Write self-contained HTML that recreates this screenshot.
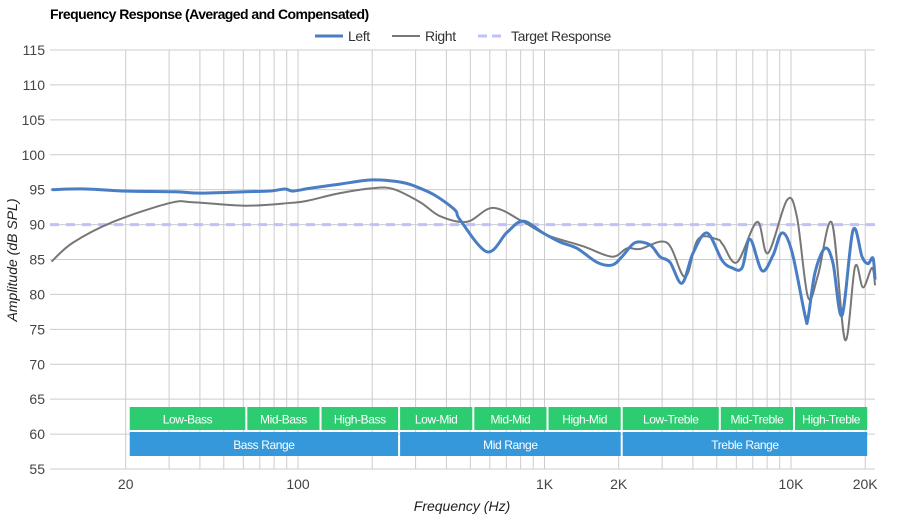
<!DOCTYPE html>
<html><head><meta charset="utf-8"><style>
body{margin:0;background:#fff;font-family:"Liberation Sans",sans-serif;}
svg text{font-family:"Liberation Sans",sans-serif;}
</style></head><body>
<svg id="chart" width="900" height="520" xmlns="http://www.w3.org/2000/svg">
<rect width="900" height="520" fill="#fff"/>
<text x="50" y="19" font-size="14" font-weight="bold" fill="#000" style="letter-spacing:-0.55px">Frequency Response (Averaged and Compensated)</text>
<g id="grid"></g><g id="bands"></g><g id="series"></g><g id="axes"></g>
<g>
<line x1="315" y1="36" x2="343" y2="36" stroke="#4a7ec4" stroke-width="3"/>
<text x="348" y="41" font-size="14" fill="#333" style="letter-spacing:-0.4px">Left</text>
<line x1="392" y1="36" x2="420" y2="36" stroke="#777" stroke-width="2"/>
<text x="425" y="41" font-size="14" fill="#333" style="letter-spacing:-0.4px">Right</text>
<line x1="478" y1="36" x2="506" y2="36" stroke="#c0c0fa" stroke-width="3" stroke-dasharray="9,5"/>
<text x="511" y="41" font-size="14" fill="#333" style="letter-spacing:-0.4px">Target Response</text>
</g>
<text x="462" y="511" font-size="14" font-style="italic" text-anchor="middle" fill="#222">Frequency (Hz)</text>
<text transform="translate(17,260) rotate(-90)" font-size="14" font-style="italic" text-anchor="middle" fill="#222">Amplitude (dB SPL)</text>
</svg>
<script>
const yTicks=[55,60,65,70,75,80,85,90,95,100,105,110,115];
const xGrid=[20,30,40,50,60,70,80,90,100,200,300,400,500,600,700,800,900,1000,2000,3000,4000,5000,6000,7000,8000,9000,10000,20000];
const xTickVals=[20,100,1000,2000,10000,20000];
const xTickLabels=["20","100","1K","2K","10K","20K"];
const target=90;
const leftFreq=[10,13.7,20,31.7,40,61,76.9,88.5,95.4,111.9,148,199.5,259,298,359,433,454,585,705,818,986,1156,1355,1633,1879,2062,2328,2679,2941,3230,3612,4003,4563,5250,5767,6329,6818,7628,8453,9190,10090,11400,11720,12510,13740,14800,16100,17850,19420,20530,21510,21930];
const leftDb=[95.0,95.1,94.8,94.7,94.5,94.7,94.8,95.1,94.8,95.2,95.8,96.4,96.1,95.5,94.2,92.1,90.7,86.1,88.9,90.5,88.8,87.5,86.6,84.6,84.2,85.4,87.4,87.1,85.4,84.6,81.6,85.9,88.8,84.9,83.8,83.8,87.9,83.4,85.6,88.8,86.1,77.0,76.6,83.1,86.6,84.5,77.0,89.2,85.4,84.4,85.2,82.1];
const rightFreq=[10,12.2,17.8,30.3,37.5,61,92.9,108.8,148,201,243,313,377,485,618,818,1023,1432,1879,2161,2440,3141,3717,4195,5011,5298,6040,7283,8064,9630,10570,11720,12880,14670,16560,18200,19600,21310,21930];
const rightDb=[84.7,87.4,90.4,93.1,93.2,92.7,93.1,93.4,94.5,95.2,95.1,93.2,91.2,90.4,92.4,90.4,88.5,86.9,85.4,86.6,86.5,87.4,82.5,87.9,87.9,87.1,84.6,90.4,85.9,93.5,91.1,79.6,82.8,90.2,73.5,84.0,81.0,83.8,81.3];
const bandNames=["Low-Bass","Mid-Bass","High-Bass","Low-Mid","Mid-Mid","High-Mid","Low-Treble","Mid-Treble","High-Treble"];
const bandEdges=[20,60,120,250,500,1000,2000,5000,10000,20000];
const rangeNames=["Bass Range","Mid Range","Treble Range"];
const rangeEdges=[20,250,2000,20000];

const NS="http://www.w3.org/2000/svg";
const X0=50,X1=875,Y0=50,Y1=469;
function xs(f){return 298+246.5*(Math.log10(f)-2);}
function ys(v){return Y1-(v-55)*(Y1-Y0)/60;}
function mk(tag,attrs,parent){const e=document.createElementNS(NS,tag);for(const k in attrs)e.setAttribute(k,attrs[k]);parent.appendChild(e);return e;}
const grid=document.getElementById('grid'),axes=document.getElementById('axes'),bands=document.getElementById('bands'),series=document.getElementById('series');
yTicks.forEach(v=>{
  const l=mk('line',{x1:X0,x2:X1,y1:ys(v),y2:ys(v),stroke:'#ccc','stroke-width':1},grid);
  
  
  const t=mk('text',{x:45,y:ys(v)+5,'font-size':14,'text-anchor':'end',fill:'#444'},axes);
  t.textContent=v;
  
  
});
xGrid.forEach(f=>{
  const l=mk('line',{x1:xs(f),x2:xs(f),y1:Y0,y2:Y1,stroke:'#ccc','stroke-width':1},grid);
  
  
});
xTickVals.forEach((f,i)=>{
  const t=mk('text',{x:xs(f),y:489,'font-size':14,'text-anchor':'middle',fill:'#444'},axes);
  t.textContent=xTickLabels[i];
  
  
});
function band(a,b,name,y,h,col){
  const x1=xs(a)+4,w=xs(b)-xs(a)-2;
  const r=mk('rect',{x:x1,y:y,width:w,height:h,fill:col},bands);
  
  
  const t=mk('text',{x:x1+w/2,y:y+h/2+5,'font-size':12,'text-anchor':'middle',fill:'#fff'},bands);
  t.textContent=name;
  
  
  t.style.letterSpacing='-0.4px';
}
bandNames.forEach((n,i)=>band(bandEdges[i],bandEdges[i+1],n,407,23,'#2ecc71'));
rangeNames.forEach((n,i)=>band(rangeEdges[i],rangeEdges[i+1],n,432,24,'#3498db'));
const tl=mk('line',{x1:X0,x2:X1,y1:ys(target),y2:ys(target),stroke:'#c0c0fa','stroke-width':3,'stroke-dasharray':'9,7'},series);


function path(fr,db){
  const p=fr.map((f,i)=>[xs(f),ys(db[i])]);
  let d='M'+p[0][0]+','+p[0][1];
  for(let i=0;i<p.length-1;i++){
    const p0=p[i-1]||p[i],p1=p[i],p2=p[i+1],p3=p[i+2]||p2;
    const c1=[p1[0]+(p2[0]-p0[0])/6,p1[1]+(p2[1]-p0[1])/6];
    const c2=[p2[0]-(p3[0]-p1[0])/6,p2[1]-(p3[1]-p1[1])/6];
    d+=' C'+c1+' '+c2+' '+p2;
  }
  return d;
}
const rp=mk('path',{d:path(rightFreq,rightDb),fill:'none',stroke:'#777','stroke-width':2},series);


const lp=mk('path',{d:path(leftFreq,leftDb),fill:'none',stroke:'#4a7ec4','stroke-width':3},series);


</script>
</body></html>
